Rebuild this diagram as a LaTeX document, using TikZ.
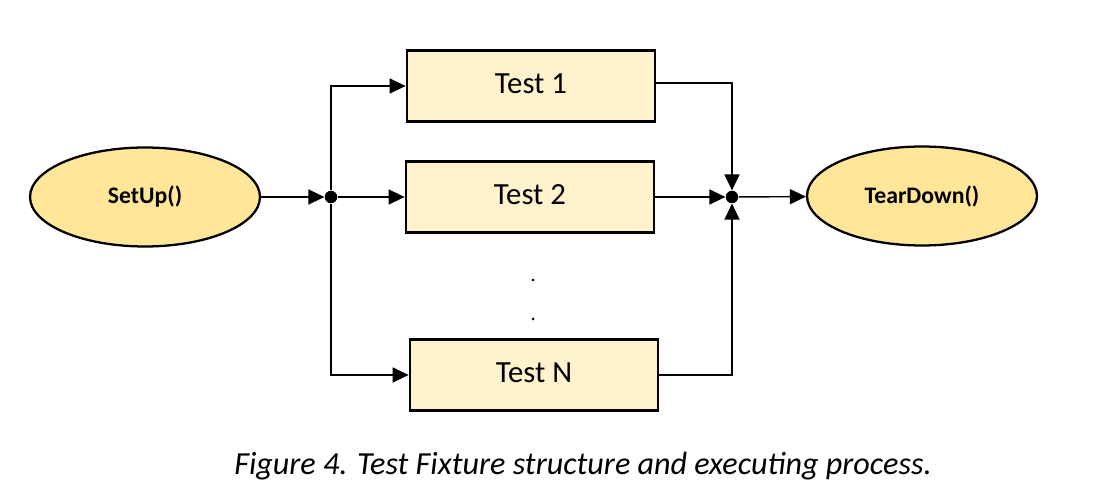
\documentclass[tikz,border=0pt]{standalone}
\usepackage{fontspec}
\setmainfont{Carlito}
\usepackage{tikz}
\usetikzlibrary{arrows.meta,positioning,shapes.geometric}
\definecolor{fixGold}{RGB}{255, 230, 153}
\definecolor{fixCream}{RGB}{255, 242, 204}

\begin{document}
\begin{tikzpicture}[
        x=0.02cm, y=-0.02cm,
        fixture/.style={ellipse, draw=black, fill=fixGold, line width=1.3pt, minimum width=4.6cm, minimum height=1.98cm, align=center, font=\fontsize{13.5}{16}\selectfont\bfseries},
        testbox/.style={rectangle, draw=black, fill=fixCream, line width=1.6pt, minimum width=4.96cm, minimum height=1.42cm, align=center, font=\fontsize{17.5}{20}\selectfont},
        junction/.style={circle, fill=black, minimum size=0.25cm, inner sep=0pt},
        vdot/.style={circle, fill=black, minimum size=0.06cm, inner sep=0pt},
        arrow/.style={-{Triangle[length=0.32cm, width=0.3cm]}, line width=0.8pt}
    ]
        \useasboundingbox (0,0) rectangle (1115,502);

        % SetUp and TearDown
        \node[fixture] (setup) at (145,197) {SetUp()};
        \node[fixture] (teardown) at (922,196) {TearDown()};

        % Junctions
        \node[junction] (jl) at (331,197) {};
        \node[junction] (jr) at (732,197) {};

        % Tests
        \node[testbox] (t1) at (531,86) {\raisebox{0.1cm}{Test 1}};
        \node[testbox] (t2) at (530,197) {\raisebox{0.1cm}{Test 2}};
        \node[testbox] (tn) at (534,375) {\raisebox{0.1cm}{Test N}};

        % Vertical dots
        \node[vdot] (dot1) at (533,280) {};
        \node[vdot] (dot2) at (533,319) {};

        % Caption
        \node[font=\fontsize{18.3}{22}\selectfont\itshape] (caption) at (583,466) {Figure 4. Test Fixture structure and executing process.};

        % Fan out
        \draw[arrow] (setup) -- (jl);
        \draw[arrow] (jl) |- (t1.west);
        \draw[arrow] (jl) -- (t2);
        \draw[arrow] (jl) |- (tn.west);

        % Fan in
        \draw[arrow] ([yshift=0.06cm]t1.east) -| (jr);
        \draw[arrow] (t2) -- (jr);
        \draw[arrow] (tn.east) -| (jr);
        \draw[arrow] (jr) -- (teardown);

    \end{tikzpicture}
\end{document}
